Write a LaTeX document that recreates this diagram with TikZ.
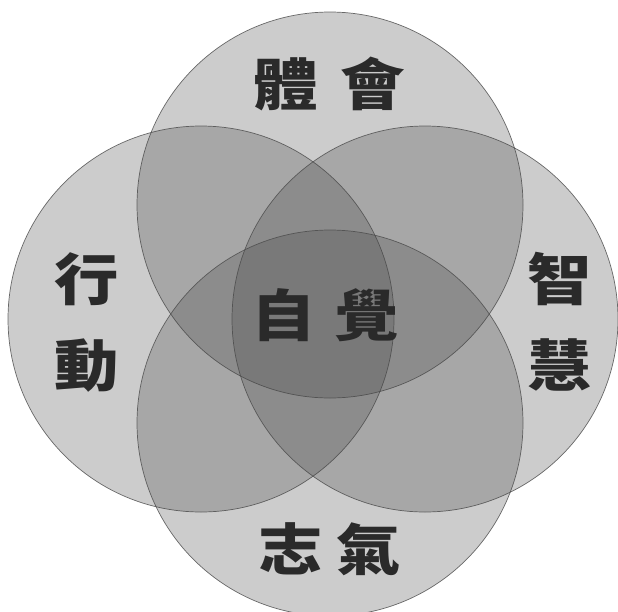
\documentclass[tikz,border=0pt]{standalone}
\usepackage{fontspec}
\usepackage{tikz}
\newfontfamily\cjk{Noto Sans CJK TC}
\definecolor{ringgrey}{HTML}{4A4A4A}
\definecolor{inkgrey}{HTML}{2A2A2A}

\begin{document}
\begin{tikzpicture}[x=1pt, y=-1pt,
  ring/.style={circle, draw=ringgrey, line width=0.7pt, fill=black!72,
    fill opacity=0.28, draw opacity=0.8, minimum size=386pt, inner sep=0pt},
  word/.style={text=inkgrey, inner sep=0pt, align=center, xscale=1.15,
    font=\cjk\bfseries\fontsize{56}{86}\selectfont}]
  \useasboundingbox (0,0) rectangle (618,611);
  \node[ring] (top) at (330,205) {};
  \node[ring] (left) at (201,319) {};
  \node[ring] (right) at (425,319) {};
  \node[ring] (bottom) at (330,423) {};
  \node[word] (tiwei) at (329,84) {體\hspace{20pt}會};
  \node[word] (xing) at (87,322) {行\\動};
  \node[word] (zhi) at (560,322) {智\\慧};
  \node[word] (qi) at (330,549) {志\hspace{12pt}氣};
  \node[word] (zijue) at (325,315) {自\hspace{16pt}覺};
\end{tikzpicture}
\end{document}
